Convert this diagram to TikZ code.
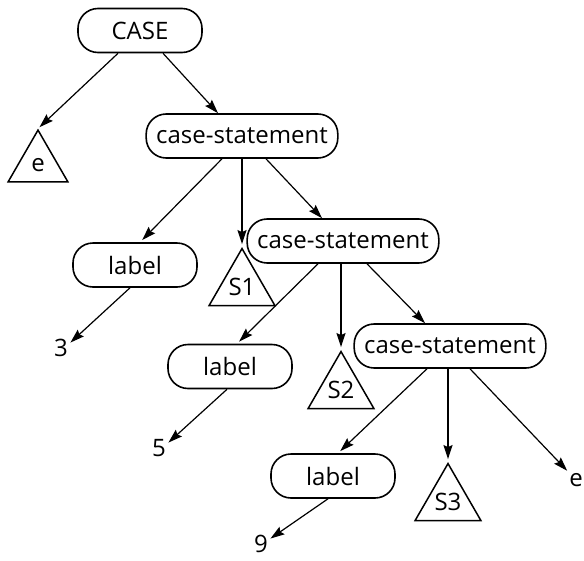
\documentclass[tikz,border=0pt]{standalone}
\usepackage{fontspec}
\setmainfont{Open Sans}
\usetikzlibrary{shapes.geometric,arrows.meta}

\begin{document}
\begin{tikzpicture}[x=1pt, y=-1pt, line width=1.2pt,
    >={Stealth[length=14pt,width=9pt,inset=2pt]},
    every node/.style={font=\fontsize{24}{28}\selectfont},
    box/.style={draw, line width=1.6pt, rounded corners=20pt,
                minimum height=44pt, minimum width=124pt, inner xsep=10pt},
    tri/.style={draw, line width=1.5pt, regular polygon,
                regular polygon sides=3, minimum size=69pt, inner sep=0pt},
    num/.style={inner sep=2pt}]
                    \useasboundingbox (0,0) rectangle (584,560);

                    % the statement nodes
                    \node[box] (case) at (140,30.5) {CASE};
                    \node[box] (cs1) at (242,136) {case-statement};
                    \node[box] (cs2) at (343,241) {case-statement};
                    \node[box] (cs3) at (450,346) {case-statement};

                    \node[box] (lab1) at (135,265) {label};
                    \node[box] (lab2) at (230,366.5) {label};
                    \node[box] (lab3) at (333,476) {label};

                    % subtrees
                    \node[tri] (e) at (38,164.6) {e};
                    \node[tri] (s1) at (242,286.6) {S1};
                    \node[tri] (s2) at (341,389.6) {S2};
                    \node[tri] (s3) at (448,501.6) {S3};

                    \node[num] (n3) at (61,348) {3};
                    \node[num] (n5) at (159,448) {5};
                    \node[num] (n9) at (261,544) {9};
                    \node[num] (elast) at (576,480) {e};

                    \draw[->, shorten >=2pt] ([xshift=-22pt]case.south) -- (e.north);
                    \draw[->] ([xshift=23pt]case.south) -- ([xshift=-24pt]cs1.north);

                    \draw[->, shorten >=3pt] ([xshift=-20pt]cs1.south) -- ([xshift=5pt]lab1.north);
                    \draw[->] ([xshift=24pt]cs1.south) -- ([xshift=-21pt]cs2.north);
                    \draw[->, shorten >=3pt] ([xshift=-25pt]cs2.south) -- ([xshift=7pt]lab2.north);
                    \draw[->] ([xshift=24pt]cs2.south) -- ([xshift=-25pt]cs3.north);
                    \draw[->, shorten >=3pt] ([xshift=-23pt]cs3.south) -- ([xshift=5pt]lab3.north);
                    \draw[->] ([xshift=20pt]cs3.south) -- (elast);

                    % straight down into each statement subtree
                    \foreach \c/\s in {cs1/s1, cs2/s2, cs3/s3}
                    \draw[->, shorten >=3pt] (\s.north |- \c.south) -- (\s.north);

                    \draw[->] ([xshift=-5pt]lab1.south) -- (n3.30);
                    \draw[->] ([xshift=-3pt]lab2.south) -- (n5.30);
                    \draw[->] ([xshift=-5pt]lab3.south) -- (n9.30);
                \end{tikzpicture}
\end{document}
